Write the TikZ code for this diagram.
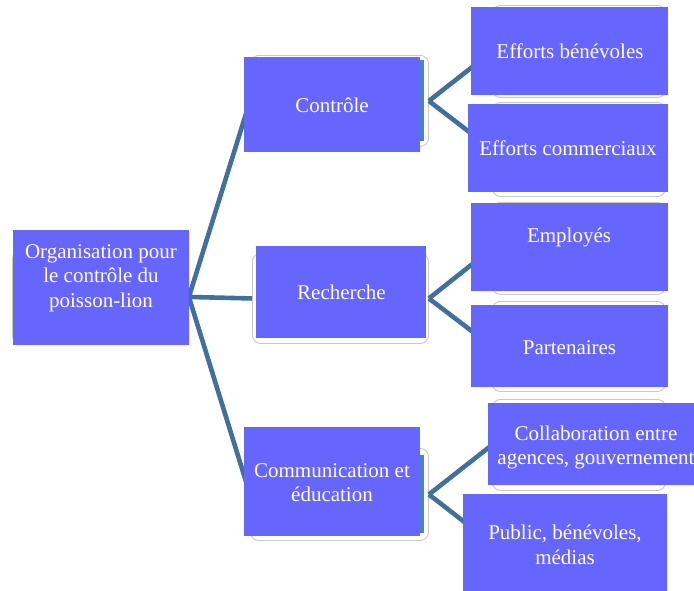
\documentclass[tikz,border=0pt]{standalone}
\usepackage{fontspec}
\setmainfont{Liberation Serif}
\definecolor{boxviolet}{HTML}{6666FF}
\definecolor{linkblue}{HTML}{41709F}
\definecolor{framegray}{HTML}{C8C8C8}
\definecolor{fillblue}{HTML}{4F81BD}
\tikzset{
  frame/.style={draw=framegray, line width=0.9pt, fill=white, rounded corners=8pt,
    inner sep=0pt, anchor=north west},
  pbox/.style={fill=boxviolet, draw=none, inner sep=0pt, anchor=north west},
  ptext/.style={text=white, align=center, inner sep=0pt,
    font=\fontsize{21pt}{24.5pt}\selectfont},
  link/.style={draw=linkblue, line width=4.6pt},
}
\begin{document}
\begin{tikzpicture}[x=1pt,y=-1pt]
\useasboundingbox (0,0) rectangle (694,590);
\clip (0,0) rectangle (694,590);

% background frames of the hierarchy (drawn first, mostly hidden)
\node[frame, minimum width=176pt, minimum height=93pt] (uroot) at (12,250) {};
\node[frame, minimum width=178pt, minimum height=91pt] (uctrl) at (250,55) {};
\node[frame, minimum width=176pt, minimum height=90pt] (urech) at (252,253) {};
\node[frame, minimum width=178pt, minimum height=92pt] (ucomm) at (250,448) {};
\node[frame, minimum width=173pt, minimum height=92pt] (ueb) at (492,5) {};
\node[frame, minimum width=173pt, minimum height=94pt] (uec) at (492,102) {};
\node[frame, minimum width=173pt, minimum height=92pt] (uemp) at (492,202) {};
\node[frame, minimum width=173pt, minimum height=90pt] (upart) at (492,301) {};
\node[frame, minimum width=173pt, minimum height=91pt] (ucoll) at (492,399) {};
\node[frame, minimum width=173pt, minimum height=92pt] (upub) at (492,497) {};

% connectors
\draw[link] (uroot.east) -- (uctrl.west);
\draw[link] (uroot.east) -- (urech.west);
\draw[link] (uroot.east) -- (ucomm.west);
\draw[link] (uctrl.east) -- (ueb.west);
\draw[link] (uctrl.east) -- (uec.west);
\draw[link] (urech.east) -- (uemp.west);
\draw[link] (urech.east) -- (upart.west);
\draw[link] (ucomm.east) -- (ucoll.west);
\draw[link] (ucomm.east) -- (upub.west);

% blue fill showing at the right edge of two frames
\fill[fillblue] (420,60) rectangle (423.5,141);
\fill[fillblue] (420,455) rectangle (423.5,533);

% violet boxes
\node[pbox, minimum width=176pt, minimum height=115pt] (root) at (13,230) {};
\node[pbox, minimum width=176pt, minimum height=95pt]  (ctrl) at (244,57) {};
\node[pbox, minimum width=170pt, minimum height=92pt]  (rech) at (256,246) {};
\node[pbox, minimum width=176pt, minimum height=109pt] (comm) at (244,427) {};
\node[pbox, minimum width=197pt, minimum height=88pt]  (eb)   at (471,7) {};
\node[pbox, minimum width=200pt, minimum height=88pt]  (ec)   at (468,104) {};
\node[pbox, minimum width=197pt, minimum height=88pt]  (emp)  at (471,203) {};
\node[pbox, minimum width=197pt, minimum height=82pt]  (part) at (471,305) {};
\node[pbox, minimum width=215pt, minimum height=82pt]  (coll) at (488,403) {};
\node[pbox, minimum width=204pt, minimum height=100pt] (pub)  at (463,494) {};

% labels
\node[ptext] (troot) at (101,278) {Organisation pour\\le contrôle du\\poisson-lion};
\node[ptext, anchor=base] (tctrl) at (332,112) {Contrôle};
\node[ptext, anchor=base] (trech) at (341.5,299) {Recherche};
\node[ptext] (tcomm) at (332,482.5) {Communication et\\éducation};
\node[ptext, anchor=base] (teb) at (570,58) {Efforts bénévoles};
\node[ptext, anchor=base] (tec) at (568,155) {Efforts commerciaux};
\node[ptext, anchor=base] (temp) at (569,242) {Employés};
\node[ptext, anchor=base] (tpart) at (569.5,354) {Partenaires};
\node[ptext] (tcoll) at (596,447.5) {Collaboration entre\\agences, gouvernement};
\node[ptext] (tpub) at (565,545) {Public, bénévoles,\\médias};
\end{tikzpicture}
\end{document}
